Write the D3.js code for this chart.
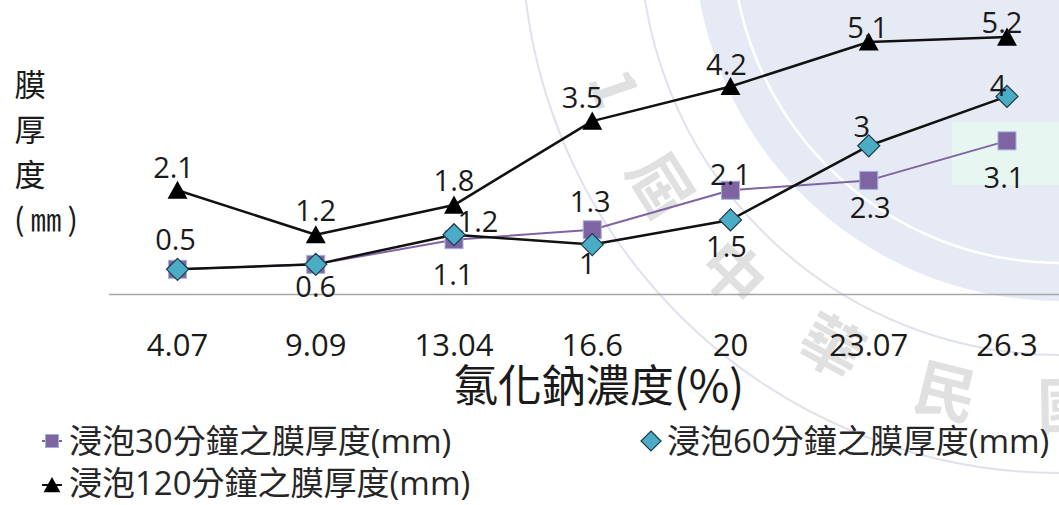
<!DOCTYPE html>
<html>
<head>
<meta charset="utf-8">
<script src="https://cdn.jsdelivr.net/npm/d3@7"></script>
<style>
  html, body { margin: 0; padding: 0; background: #ffffff; }
  svg { display: block; }
</style>
</head>
<body>
<svg id="chart" width="1059" height="505"></svg>
<script>
// ---- data ----
const categories = ["4.07", "9.09", "13.04", "16.6", "20", "23.07", "26.3"];
const soak30 = [0.5, 0.6, 1.1, 1.3, 2.1, 2.3, 3.1];
const soak60 = [0.5, 0.6, 1.2, 1, 1.5, 3, 4];
const soak120 = [2.1, 1.2, 1.8, 3.5, 4.2, 5.1, 5.2];
const seriesNames = [
  "浸泡30分鐘之膜厚度(mm)",
  "浸泡60分鐘之膜厚度(mm)",
  "浸泡120分鐘之膜厚度(mm)"
];
const xTitle = "氯化鈉濃度(%)";
const yTitleLines = ["膜", "厚", "度", "(㎜)"];
const sealText = ["5", "1", "屆", "中", "華", "民", "國"];

// ---- layout ----
const svg = d3.select("#chart");
const W = 1059, H = 505;
const baseY = 294;

const x = d3.scaleBand().domain(categories).range([108.4, 1076.1]).padding(0);
const cx = c => x(c) + x.bandwidth() / 2;
const y = d3.scaleLinear().domain([0, 6]).range([baseY, -2.4]);

const numFont = "'Open Sans', 'Noto Sans CJK TC', sans-serif";
const cjkFont = "'Noto Sans CJK TC', 'Noto Sans', sans-serif";

// ---- background seal watermark ----
const seal = svg.append("g").attr("class", "seal");
const sc = [1060, -65];
seal.append("circle").attr("cx", sc[0]).attr("cy", sc[1]).attr("r", 366)
  .attr("fill", "#e6eaf4");
seal.append("circle").attr("cx", sc[0]).attr("cy", sc[1]).attr("r", 328)
  .attr("fill", "none").attr("stroke", "#ffffff").attr("stroke-width", 2.5);
seal.append("circle").attr("cx", sc[0]).attr("cy", sc[1]).attr("r", 420)
  .attr("fill", "none").attr("stroke", "#dfe2ec").attr("stroke-width", 2);
seal.append("circle").attr("cx", sc[0]).attr("cy", sc[1]).attr("r", 538)
  .attr("fill", "none").attr("stroke", "#dfe2ec").attr("stroke-width", 2);
const sealAngles = [174, 161, 148, 134, 119, 104, 89];
seal.selectAll("text.sealch").data(sealText).join("text")
  .attr("class", "sealch")
  .attr("transform", (d, i) => {
    const a = sealAngles[i] * Math.PI / 180;
    const px = sc[0] + 472 * Math.cos(a), py = sc[1] + 472 * Math.sin(a);
    return `translate(${px},${py}) rotate(${sealAngles[i] - 90})`;
  })
  .attr("text-anchor", "middle")
  .attr("dy", "0.35em")
  .attr("font-family", cjkFont)
  .attr("font-weight", 700)
  .attr("font-size", 62)
  .attr("fill", "#e0e0e0")
  .text(d => d);

// ---- axis ----
const xAxis = d3.axisBottom(x).tickSize(0).tickSizeOuter(0);
const gx = svg.append("g").attr("transform", `translate(0,${baseY})`).call(xAxis);
gx.select(".domain").attr("stroke", "#a6a6a6").attr("stroke-width", 1.5);
gx.selectAll(".tick text")
  .attr("y", 62).attr("dy", 0)
  .attr("font-family", numFont).attr("font-size", 31).attr("fill", "#1a1a1a");

// ---- titles ----
svg.append("text")
  .attr("x", 599).attr("y", 402)
  .attr("text-anchor", "middle")
  .attr("font-family", cjkFont).attr("font-size", 44).attr("fill", "#1a1a1a")
  .text(xTitle);

svg.selectAll("text.ytitle").data(yTitleLines).join("text")
  .attr("class", "ytitle")
  .attr("x", (d, i) => i < 3 ? 30 : 14)
  .attr("y", (d, i) => 96 + i * 45)
  .attr("text-anchor", (d, i) => i < 3 ? "middle" : "start")
  .attr("letter-spacing", (d, i) => i < 3 ? 0 : 6)
  .attr("font-family", cjkFont).attr("font-size", 31).attr("fill", "#1a1a1a")
  .text(d => d);

// ---- series ----
const series = [
  { name: seriesNames[0], values: soak30, line: "#8064a2", lw: 2, marker: "square" },
  { name: seriesNames[1], values: soak60, line: "#111111", lw: 2.5, marker: "diamond" },
  { name: seriesNames[2], values: soak120, line: "#111111", lw: 2.5, marker: "triangle" }
];

// label offsets (dx from point, baseline dy from point); null = not shown
const labelOffsets = [
  [[-2, -19], [0, 33], [-1, 45], [-2, -18], [0, -5], [1.5, 38], [-3, 47]],
  [null, null, [24, -3], [-5, 29], [-4, 37], [-7, -9], [-9, 0]],
  [[-4, -12], [0, -14], [0, -14], [-10, -13], [-4, -11.5], [-1, -4], [-5, -4]]
];

// highlighted label box behind the last 30-minute label
svg.append("rect")
  .attr("x", cx(categories[6]) - 55)
  .attr("y", y(soak30[6]) - 19)
  .attr("width", 140).attr("height", 63)
  .attr("fill", "#e8f6f2");

function drawMarker(g, type, size) {
  if (type === "square") {
    g.append("rect")
      .attr("x", -size / 2).attr("y", -size / 2)
      .attr("width", size).attr("height", size)
      .attr("fill", "#8064a2").attr("stroke", "#9fb4dc").attr("stroke-width", 1);
  } else if (type === "diamond") {
    const s = size / 2;
    g.append("path")
      .attr("d", `M0,${-s}L${s},0L0,${s}L${-s},0Z`)
      .attr("fill", "#4bacc6").attr("stroke", "#1d3a48").attr("stroke-width", 1.2);
  } else {
    const s = size / 2;
    g.append("path")
      .attr("d", `M0,${-s}L${s * 1.05},${s * 0.9}L${-s * 1.05},${s * 0.9}Z`)
      .attr("fill", "#000000");
  }
}

const markerSize = { square: 18, diamond: 22, triangle: 19 };

series.forEach((s, si) => {
  const lineGen = d3.line().x((d, i) => cx(categories[i])).y(d => y(d));
  svg.append("path")
    .datum(s.values)
    .attr("d", lineGen)
    .attr("fill", "none")
    .attr("stroke", s.line)
    .attr("stroke-width", s.lw)
    .attr("stroke-linejoin", "round");
});

series.forEach((s, si) => {
  s.values.forEach((v, i) => {
    const g = svg.append("g").attr("transform", `translate(${cx(categories[i])},${y(v)})`);
    drawMarker(g, s.marker, markerSize[s.marker]);
  });
});

series.forEach((s, si) => {
  s.values.forEach((v, i) => {
    const off = labelOffsets[si][i];
    if (!off) return;
    svg.append("text")
      .attr("x", cx(categories[i]) + off[0])
      .attr("y", y(v) + off[1])
      .attr("text-anchor", "middle")
      .attr("font-family", numFont).attr("font-size", 29).attr("fill", "#1a1a1a")
      .text(String(v));
  });
});

// ---- legend ----
const legendItems = [
  { s: series[0], mx: 52, my: 441, tx: 69, ty: 453, line: [42, 62] },
  { s: series[1], mx: 651, my: 441, tx: 667, ty: 453, line: [641, 661] },
  { s: series[2], mx: 52, my: 485, tx: 69, ty: 495, line: [42, 62] }
];
const legendSize = { square: 13, diamond: 20, triangle: 16 };
legendItems.forEach(it => {
  svg.append("line")
    .attr("x1", it.line[0]).attr("x2", it.line[1])
    .attr("y1", it.my).attr("y2", it.my)
    .attr("stroke", it.s.line).attr("stroke-width", 2);
  const g = svg.append("g").attr("transform", `translate(${it.mx},${it.my})`);
  drawMarker(g, it.s.marker, legendSize[it.s.marker]);
  svg.append("text")
    .attr("x", it.tx).attr("y", it.ty)
    .attr("font-family", numFont).attr("font-size", 33).attr("fill", "#262626")
    .text(it.s.name);
});
</script>
</body>
</html>
